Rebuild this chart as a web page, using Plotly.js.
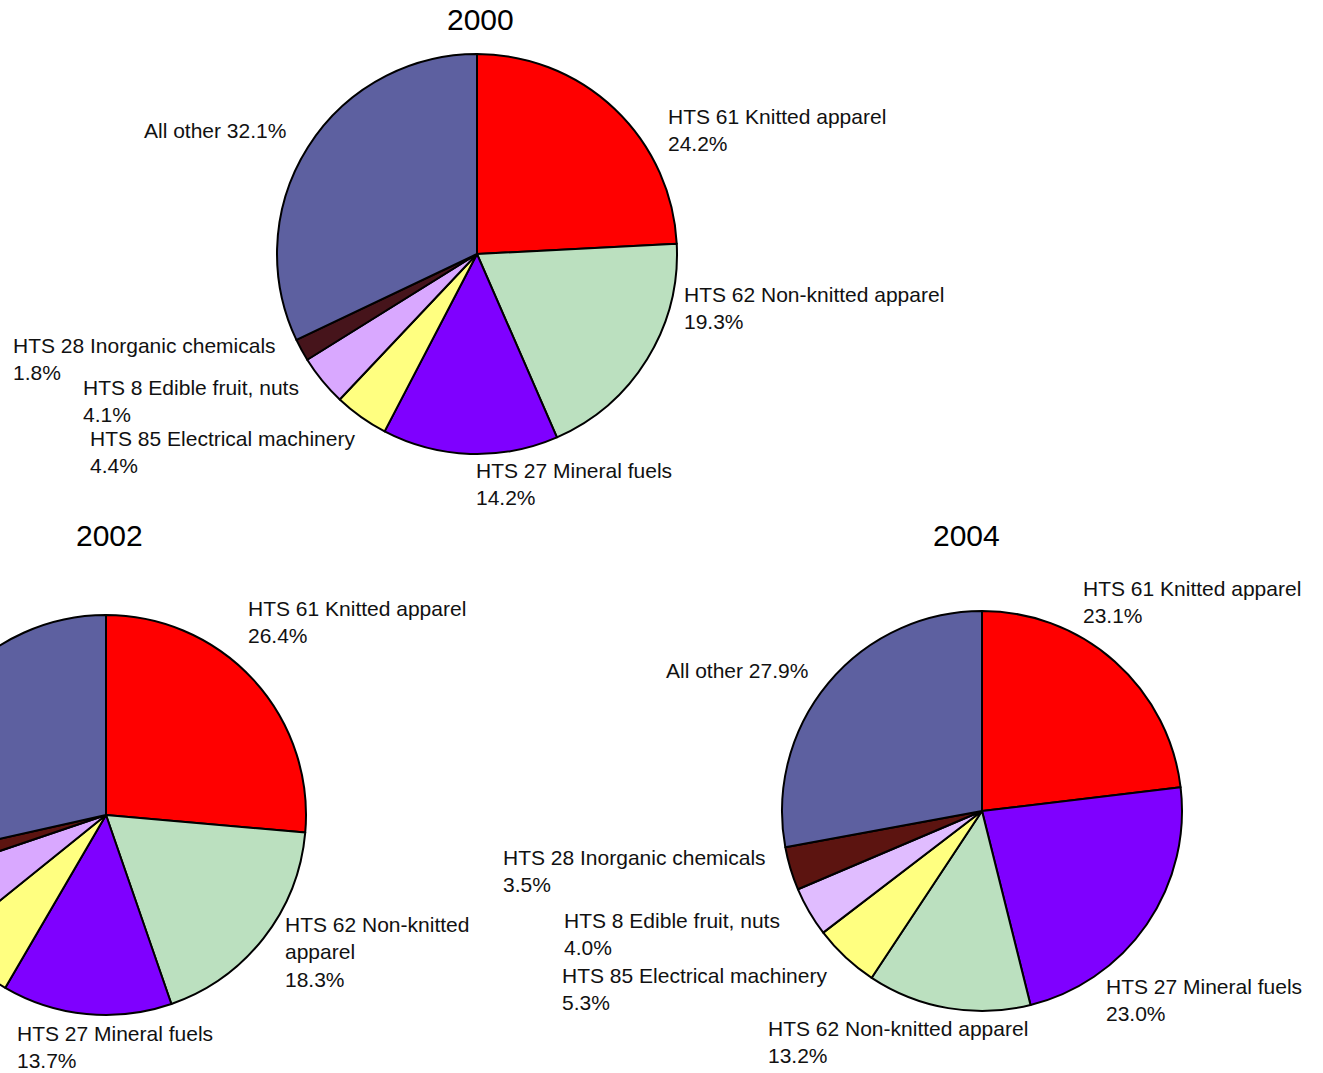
<!DOCTYPE html>
<html>
<head>
<meta charset="utf-8">
<script src="https://cdn.plot.ly/plotly-3.0.1.min.js"></script>
<style>
  html, body { margin: 0; padding: 0; background: #ffffff; overflow: hidden; width: 1323px; height: 1073px; }
  #chart { position: absolute; left: -100px; top: 0; width: 1423px; height: 1073px; }
</style>
</head>
<body>
<div id="chart"></div>
<script>
// ---------- data ----------
const years = ['2000', '2002', '2004'];

const labels2000 = ['HTS 61 Knitted apparel', 'HTS 62 Non-knitted apparel', 'HTS 27 Mineral fuels',
  'HTS 85 Electrical machinery', 'HTS 8 Edible fruit, nuts', 'HTS 28 Inorganic chemicals', 'All other'];
const values2000 = [24.2, 19.3, 14.2, 4.4, 4.1, 1.8, 32.1];

const labels2002 = ['HTS 61 Knitted apparel', 'HTS 62 Non-knitted apparel', 'HTS 27 Mineral fuels',
  'HTS 85 Electrical machinery', 'HTS 8 Edible fruit, nuts', 'HTS 28 Inorganic chemicals', 'All other'];
const values2002 = [26.4, 18.3, 13.7, 5.8, 5.6, 1.7, 28.5];

const labels2004 = ['HTS 61 Knitted apparel', 'HTS 27 Mineral fuels', 'HTS 62 Non-knitted apparel',
  'HTS 85 Electrical machinery', 'HTS 8 Edible fruit, nuts', 'HTS 28 Inorganic chemicals', 'All other'];
const values2004 = [23.1, 23.0, 13.2, 5.3, 4.0, 3.5, 27.9];

// ---------- styles ----------
const colorByLabel2000 = {
  'HTS 61 Knitted apparel': '#ff0000', 'HTS 62 Non-knitted apparel': '#bbe0bf', 'HTS 27 Mineral fuels': '#7f00ff',
  'HTS 85 Electrical machinery': '#ffff80', 'HTS 8 Edible fruit, nuts': '#d9a8ff', 'HTS 28 Inorganic chemicals': '#46141b',
  'All other': '#5d60a0'
};
const colorByLabel2002 = Object.assign({}, colorByLabel2000, { 'HTS 28 Inorganic chemicals': '#5c1410' });
const colorByLabel2004 = Object.assign({}, colorByLabel2000, { 'HTS 28 Inorganic chemicals': '#5c1410', 'HTS 8 Edible fruit, nuts': '#e0bcff' });

const W = 1423, H = 1073, OFF = 100;   // plot is shifted 100px left so 2002 pie is clipped
const FONT = '"Liberation Sans", Arial, sans-serif';
const TXT_DX = -2;

// pie boxes in page pixels: [left, top, size]
const pieBoxes = [[277, 54, 400], [-94, 615, 400], [782, 611, 400]];

// label placement (page px): left x, vertical centre y, single-line / wrap flag
const place2000 = {
  'HTS 61 Knitted apparel': [668, 130.5], 'HTS 62 Non-knitted apparel': [684, 307.5],
  'HTS 27 Mineral fuels': [476, 483.5], 'HTS 85 Electrical machinery': [90, 451.5],
  'HTS 8 Edible fruit, nuts': [83, 400.5], 'HTS 28 Inorganic chemicals': [13, 358.5],
  'All other': [144, 130, 'single']
};
const place2002 = {
  'HTS 61 Knitted apparel': [248, 622], 'HTS 62 Non-knitted apparel': [285, 951.5, 'wrap'],
  'HTS 27 Mineral fuels': [17, 1047]
};
const place2004 = {
  'HTS 61 Knitted apparel': [1083, 601.5], 'HTS 27 Mineral fuels': [1106, 1000],
  'HTS 62 Non-knitted apparel': [768, 1042], 'HTS 85 Electrical machinery': [562, 988.5],
  'HTS 8 Edible fruit, nuts': [564, 933.5], 'HTS 28 Inorganic chemicals': [503, 870.5],
  'All other': [666, 670, 'single']
};
const titlePos = [[480, 19], [109, 535], [966, 535]];

const sets = [
  [labels2000, values2000, colorByLabel2000, place2000],
  [labels2002, values2002, colorByLabel2002, place2002],
  [labels2004, values2004, colorByLabel2004, place2004]
];

const px2x = px => (px + OFF) / W;
const py2y = py => 1 - py / H;

const traces = [];
const annotations = [];
sets.forEach((s, i) => {
  const [labels, values, colors, place] = s;
  const [bl, bt, bs] = pieBoxes[i];
  traces.push({
    type: 'pie',
    labels: labels,
    values: values,
    sort: false,
    direction: 'clockwise',
    rotation: 0,
    textinfo: 'none',
    hoverinfo: 'label+percent',
    showlegend: false,
    marker: { colors: labels.map(l => colors[l]), line: { color: '#000000', width: 2 } },
    domain: { x: [px2x(bl), px2x(bl + bs)], y: [py2y(bt + bs), py2y(bt)] }
  });
  labels.forEach((l, k) => {
    const p = place[l];
    if (!p) return;
    let name = l;
    if (p[2] === 'wrap') name = name.replace(' apparel', '<br>apparel');
    const txt = name + (p[2] === 'single' ? ' ' : '<br>') + values[k].toFixed(1) + '%';
    annotations.push({
      xref: 'paper', yref: 'paper', x: px2x(p[0] + TXT_DX), y: py2y(p[1]),
      xanchor: 'left', yanchor: 'middle', align: 'left', showarrow: false,
      text: txt, font: { family: FONT, size: 21, color: '#111111' }
    });
  });
  annotations.push({
    xref: 'paper', yref: 'paper', x: px2x(titlePos[i][0]), y: py2y(titlePos[i][1]),
    xanchor: 'center', yanchor: 'middle', showarrow: false,
    text: years[i], font: { family: FONT, size: 30, color: '#000000' }
  });
});

Plotly.newPlot('chart', traces, {
  width: W, height: H,
  margin: { l: 0, r: 0, t: 0, b: 0 },
  paper_bgcolor: '#ffffff',
  annotations: annotations
}, { staticPlot: true });
</script>
</body>
</html>
